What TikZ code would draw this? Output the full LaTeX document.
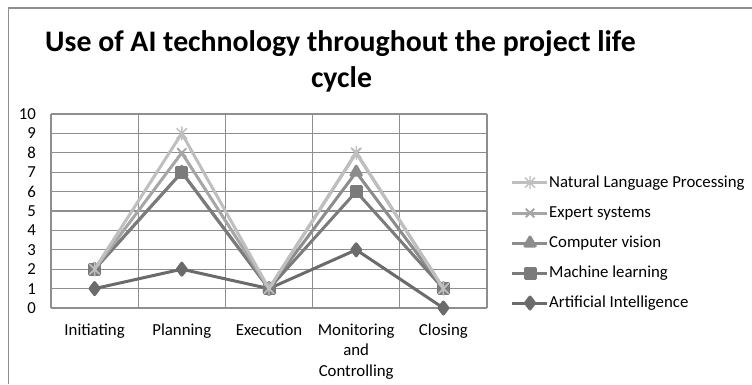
\documentclass[tikz,border=0pt]{standalone}
\usepackage{fontspec}
\setmainfont{Carlito}
\usetikzlibrary{plotmarks}
\definecolor{cNLP}{HTML}{BFBFBF}
\definecolor{cES}{HTML}{A6A6A6}
\definecolor{cCV}{HTML}{8C8C8C}
\definecolor{cML}{HTML}{7B7B7B}
\definecolor{cAI}{HTML}{6B6B6B}
\definecolor{gridc}{HTML}{8E8E8E}
\pgfdeclareplotmark{xstar}{%
  \pgfpathmoveto{\pgfqpoint{-\pgfplotmarksize}{-\pgfplotmarksize}}%
  \pgfpathlineto{\pgfqpoint{\pgfplotmarksize}{\pgfplotmarksize}}%
  \pgfpathmoveto{\pgfqpoint{-\pgfplotmarksize}{\pgfplotmarksize}}%
  \pgfpathlineto{\pgfqpoint{\pgfplotmarksize}{-\pgfplotmarksize}}%
  \pgfpathmoveto{\pgfqpoint{0pt}{-1.3\pgfplotmarksize}}%
  \pgfpathlineto{\pgfqpoint{0pt}{1.3\pgfplotmarksize}}%
  \pgfusepathqstroke}
\tikzset{
  serie/.style={line width=3pt, line join=round, line cap=round},
  gridline/.style={draw=gridc, line width=1.3pt},
  lbl/.style={font=\fontsize{16.8}{20}\selectfont, inner sep=0pt},
  ttl/.style={font=\bfseries\fontsize{29.8}{36}\selectfont, anchor=base, inner sep=0pt},
  mNLP/.style={cNLP, mark=xstar, mark size=5pt, mark options={solid, line width=1.4pt}},
  mES/.style={cES, mark=x, mark size=6pt, mark options={solid, line width=1.8pt}},
  mCV/.style={cCV, mark=triangle*, mark size=6pt, mark options={solid, fill=cCV}},
  mML/.style={cML, mark=square*, mark size=5pt, mark options={solid, fill=cML}},
  mAI/.style={cAI, mark=diamond*, mark size=6pt, mark options={solid, fill=cAI}},
}
\begin{document}
\begin{tikzpicture}[x=1pt,y=-1pt]
\useasboundingbox[fill=white] (0,0) rectangle (752,384);
% frame
\draw[gridc, line width=1.2pt] (8.5,384) -- (8.5,8) -- (752,8);
% title
\node[ttl] (t1) at (340.5,51) {Use of AI technology throughout the project life};
\node[ttl] (t2) at (341.5,87) {cycle};
% grid
\foreach \i in {0,...,10} {
  \draw[gridline] (51,{308-19.4*\i}) -- (487,{308-19.4*\i});
  \node[lbl, anchor=east] (y\i) at (36,{308-19.4*\i}) {\i};
}
\foreach \j in {0,...,5} {
  \draw[gridline] ({51+87.2*\j},114) -- ({51+87.2*\j},308);
}
% category labels
\node[lbl, anchor=base] (c1) at (94.6,335) {Initiating};
\node[lbl, anchor=base] (c2) at (181.8,335) {Planning};
\node[lbl, anchor=base] (c3) at (269.0,335) {Execution};
\node[lbl, anchor=base] (c4) at (356.2,335) {Monitoring};
\node[lbl, anchor=base] (c4b) at (356.2,355.5) {and};
\node[lbl, anchor=base] (c4c) at (356.2,376) {Controlling};
\node[lbl, anchor=base] (c5) at (443.4,335) {Closing};
% data
\begin{scope}[shift={(51,308)}, x=87.2pt, y=19.4pt]
\draw[serie, mAI] plot coordinates {(0.5,1) (1.5,2) (2.5,1) (3.5,3) (4.5,0)};
\draw[serie, mCV] plot coordinates {(0.5,2) (1.5,7) (2.5,1) (3.5,7) (4.5,1)};
\draw[serie, mML] plot coordinates {(0.5,2) (1.5,7) (2.5,1) (3.5,6) (4.5,1)};
\draw[serie, mES] plot coordinates {(0.5,2) (1.5,8) (2.5,1) (3.5,8) (4.5,1)};
\draw[serie, mNLP] plot coordinates {(0.5,2) (1.5,9) (2.5,1) (3.5,8) (4.5,1)};
\end{scope}
% legend
\draw[serie, line cap=butt, mNLP, mark indices={2}] plot coordinates {(512,182.7) (530,182.7) (547,182.7)};
\node[lbl, anchor=west] (l1) at (549,182.7) {Natural Language Processing};
\draw[serie, line cap=butt, mES, mark indices={2}] plot coordinates {(512,213) (530,213) (547,213)};
\node[lbl, anchor=west] (l2) at (549,213) {Expert systems};
\draw[serie, line cap=butt, mCV, mark indices={2}] plot coordinates {(512,243) (530,243) (547,243)};
\node[lbl, anchor=west] (l3) at (549,243) {Computer vision};
\draw[serie, line cap=butt, mML, mark indices={2}] plot coordinates {(512,273) (530,273) (547,273)};
\node[lbl, anchor=west] (l4) at (549,273) {Machine learning};
\draw[serie, line cap=butt, mAI, mark indices={2}] plot coordinates {(512,303) (530,303) (547,303)};
\node[lbl, anchor=west] (l5) at (549,303) {Artificial Intelligence};
\end{tikzpicture}
\end{document}
